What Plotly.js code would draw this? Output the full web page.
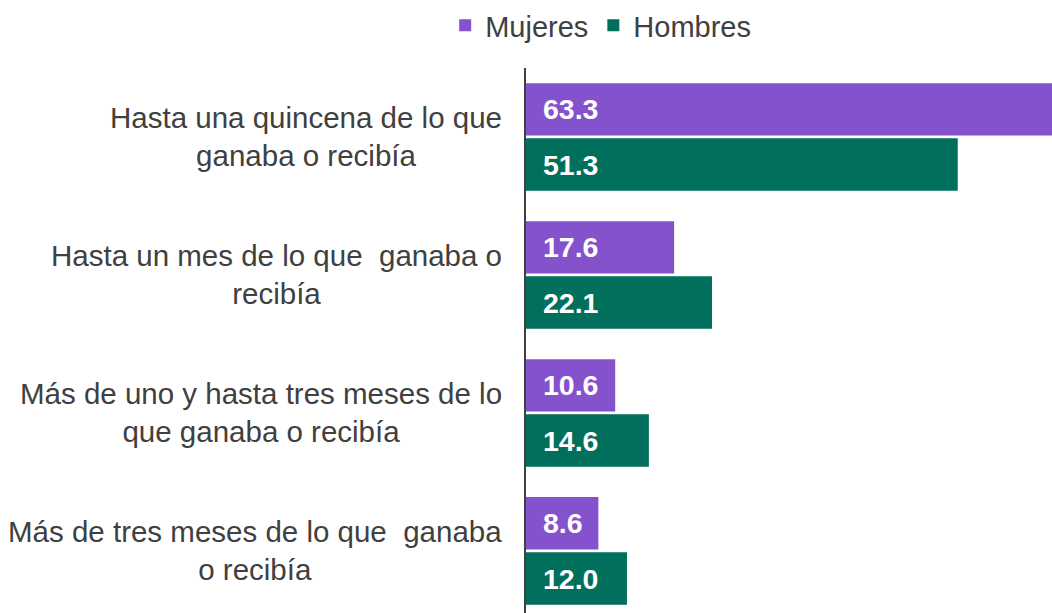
<!DOCTYPE html>
<html>
<head>
<meta charset="utf-8">
<script src="https://cdn.plot.ly/plotly-3.0.1.min.js"></script>
<style>html,body{margin:0;padding:0;background:#fff;}#chart{width:1052px;height:613px;}</style>
</head>
<body>
<div id="chart"></div>
<script>
const categories = [
  "Hasta una quincena de lo que<br>ganaba o recibía",
  "Hasta un mes de lo que  ganaba o<br>recibía",
  "Más de uno y hasta tres meses de lo<br>que ganaba o recibía",
  "Más de tres meses de lo que  ganaba<br>o recibía"
];
const mujeres = [63.3, 17.6, 10.6, 8.6];
const hombres = [51.3, 22.1, 14.6, 12.0];
const seriesNames = ["Mujeres", "Hombres"];
const seriesColors = ["#8452CC", "#006F5B"];

const FONT = "'Liberation Sans', Arial, sans-serif";
const TXT = "#404040";
const bargap = 0.2;
const idx = categories.map((c, i) => i);

const traces = [mujeres, hombres].map((vals, k) => ({
  type: "bar",
  orientation: "h",
  name: seriesNames[k],
  x: vals,
  y: idx,
  marker: {color: seriesColors[k], line: {width: 0}},
  hoverinfo: "skip"
}));

const slot = (1 - bargap) / 2;
const annotations = [];
[mujeres, hombres].forEach((vals, k) => {
  vals.forEach((v, i) => {
    annotations.push({
      xref: "x", yref: "y", x: 0, y: i + (k === 0 ? -slot / 2 : slot / 2),
      xanchor: "left", yanchor: "middle", xshift: 15, showarrow: false,
      text: "<b>" + v.toFixed(1) + "</b>",
      font: {family: FONT, size: 28.5, color: "#ffffff"}
    });
  });
});
categories.forEach((c, i) => {
  annotations.push({
    xref: "paper", yref: "y", x: 0, y: i, xanchor: "right", yanchor: "middle",
    xshift: -22, align: "center", showarrow: false, text: c,
    font: {family: FONT, size: 29.5, color: TXT}
  });
});

const layout = {
  width: 1052, height: 613,
  margin: {l: 526, r: 0, t: 68, b: 0, pad: 0},
  paper_bgcolor: "#ffffff", plot_bgcolor: "#ffffff",
  barmode: "group", bargap: bargap, bargroupgap: 0.05,
  font: {family: FONT, color: TXT},
  showlegend: true,
  legend: {
    orientation: "h", xref: "container", yref: "container",
    x: 0.571, xanchor: "center", y: 1, yanchor: "top",
    font: {family: FONT, size: 29, color: TXT},
    traceorder: "normal", itemclick: false
  },
  xaxis: {range: [0, 62.5], showgrid: false, zeroline: false, showticklabels: false, showline: false, fixedrange: true},
  yaxis: {
    type: "linear", range: [3.45, -0.5], autorange: false,
    showgrid: false, zeroline: false, showticklabels: false, ticks: "",
    showline: true, linecolor: "#404040", linewidth: 2, fixedrange: true
  },
  annotations: annotations
};

Plotly.newPlot("chart", traces, layout, {displayModeBar: false, staticPlot: true});
</script>
</body>
</html>
